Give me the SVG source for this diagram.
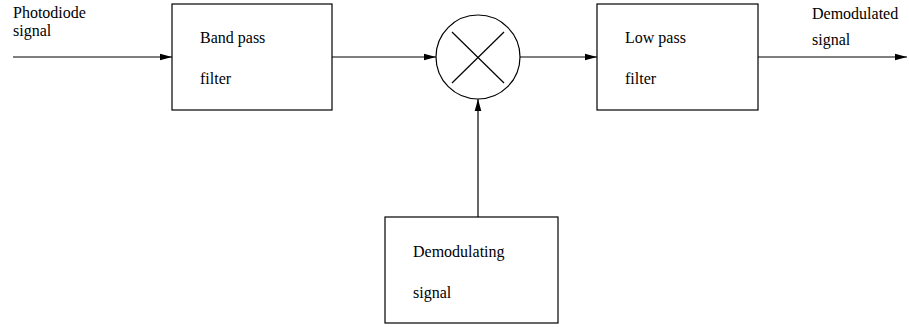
<svg xmlns="http://www.w3.org/2000/svg" width="909" height="327" viewBox="0 0 909 327">
<defs>
<style>
.b{fill:#fff;stroke:#000;stroke-width:1.2}
.l{fill:none;stroke:#000;stroke-width:1.2}
text{font-family:"Liberation Serif","Times New Roman",serif;font-size:16px;fill:#000}
</style>
<marker id="a" markerWidth="12" markerHeight="8" refX="12" refY="4" orient="auto" markerUnits="userSpaceOnUse">
<path d="M0,0.7 L12,4 L0,7.3 Z" fill="#000"/>
</marker>
</defs>
<rect width="909" height="327" fill="#fff"/>
<g id="input-label"><text x="13" y="18">Photodiode</text><text x="13" y="36">signal</text></g>
<g id="bandpass"><rect class="b" x="172" y="4" width="160" height="106"/><text x="200" y="43">Band pass</text><text x="200" y="84">filter</text></g>
<g id="mixer"><circle class="b" cx="478" cy="57" r="42"/><line class="l" x1="452" y1="32" x2="504" y2="83"/><line class="l" x1="504" y1="32" x2="452" y2="83"/></g>
<g id="lowpass"><rect class="b" x="597" y="4" width="161" height="106"/><text x="625" y="43">Low pass</text><text x="625" y="84">filter</text></g>
<g id="output-label"><text x="812" y="19">Demodulated</text><text x="812" y="45">signal</text></g>
<g id="demod"><rect class="b" x="385" y="217" width="173" height="106"/><text x="413" y="257">Demodulating</text><text x="413" y="298">signal</text></g>
<g id="connectors">
<line class="l" x1="13" y1="57" x2="172" y2="57" marker-end="url(#a)"/>
<line class="l" x1="332" y1="57" x2="436" y2="57" marker-end="url(#a)"/>
<line class="l" x1="520" y1="57" x2="597" y2="57" marker-end="url(#a)"/>
<line class="l" x1="758" y1="57" x2="907" y2="57" marker-end="url(#a)"/>
<line class="l" x1="478" y1="217" x2="478" y2="99" marker-end="url(#a)"/>
</g>
</svg>
